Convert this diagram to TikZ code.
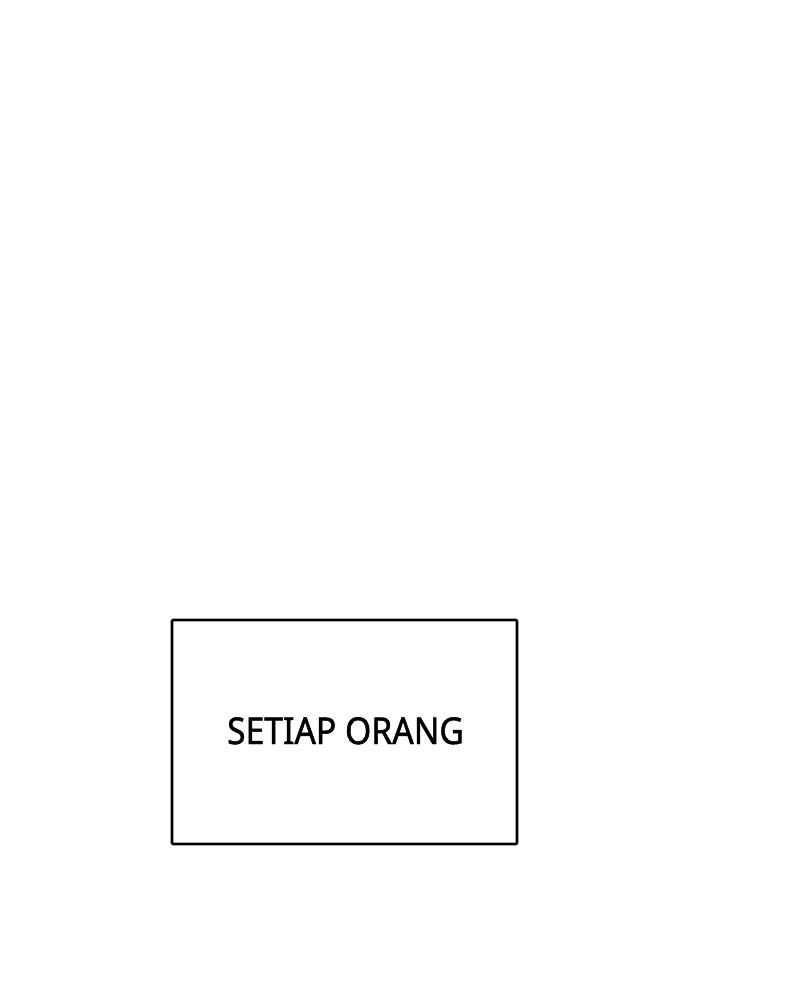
\documentclass[tikz,border=0pt]{standalone}
\usepackage{fontspec}
\setmainfont{Noto Sans}[FakeStretch=0.91,FakeBold=1.3]
\begin{document}
\begin{tikzpicture}[x=1pt,y=-1pt,
  boxstyle/.style={draw=black,line width=2.6pt,rounded corners=1pt},
  labelstyle/.style={font=\fontsize{37}{44}\selectfont,text=black}]
\useasboundingbox (0,0) rectangle (800,1000);
\draw[boxstyle] (172,620) rectangle (517,844);
\node[labelstyle,anchor=base] (lbl) at (345.5,744) {SETIAP ORANG};
\end{tikzpicture}
\end{document}
